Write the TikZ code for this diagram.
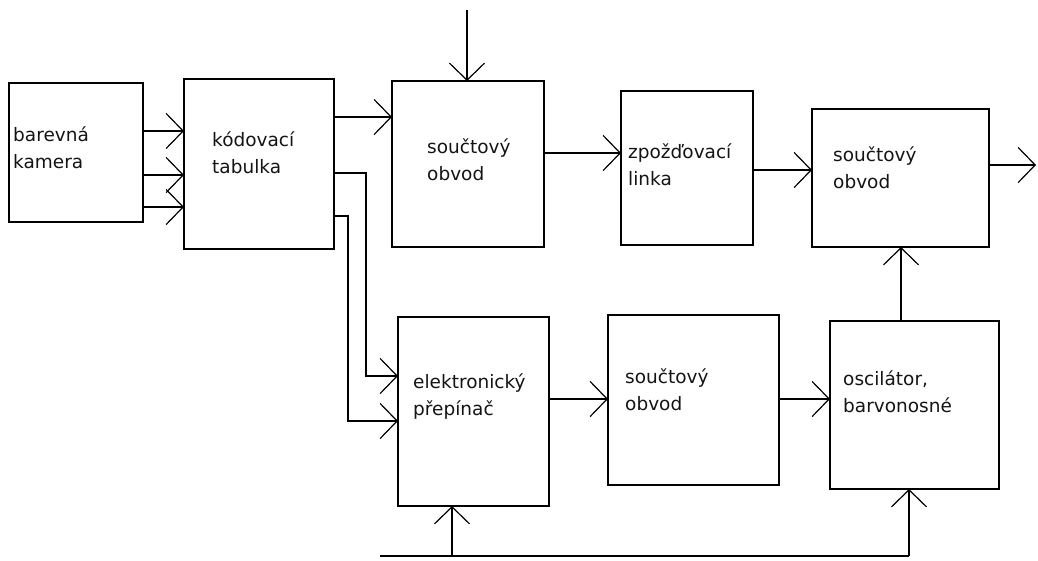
\documentclass[tikz,border=0pt]{standalone}
\usepackage{fontspec}
\setmainfont{DejaVu Sans}
\usepackage{tikz}
\usetikzlibrary{positioning,arrows.meta,calc}
\usepackage{xcolor}
\definecolor{schemaLine}{RGB}{0,0,0}
\definecolor{schemaText}{RGB}{20,20,20}

\begin{document}
\begin{tikzpicture}[x=1pt, y=-1pt,
    blok/.style={draw=schemaLine, line width=1.2pt, anchor=north west, inner sep=0pt, outer sep=0pt},
    popis/.style={anchor=base west, inner sep=0pt, align=left, text=schemaText,
                  font=\fontsize{18.5}{27}\selectfont},
    sip/.style={draw=schemaLine, line width=1.2pt,
                -{Straight Barb[length=17pt, width=35pt, line width=1.2pt]}},
    vod/.style={draw=schemaLine, line width=1.2pt}]
  \useasboundingbox (0,0) rectangle (1038,560);

  % bloky
  \node[blok, minimum width=134pt, minimum height=139pt] (kamera)   at (9,83)   {};
  \node[blok, minimum width=150pt, minimum height=170pt] (tabulka)  at (184,79) {};
  \node[blok, minimum width=152pt, minimum height=166pt] (soucetA)  at (392,81) {};
  \node[blok, minimum width=132pt, minimum height=154pt] (linka)    at (621,91) {};
  \node[blok, minimum width=177pt, minimum height=138pt] (soucetB)  at (812,109) {};
  \node[blok, minimum width=151pt, minimum height=189pt] (prepinac) at (398,317) {};
  \node[blok, minimum width=171pt, minimum height=170pt] (soucetC)  at (608,315) {};
  \node[blok, minimum width=169pt, minimum height=168pt] (oscil)    at (830,321) {};

  % popisy (base = posledni radek)
  \node[popis] (kameraT)   at (13,168)  {barevná\\kamera};
  \node[popis] (tabulkaT)  at (212,173) {kódovací\\tabulka};
  \node[popis] (soucetAT)  at (427,180) {součtový\\obvod};
  \node[popis] (linkaT)    at (628,185) {zpožďovací\\linka};
  \node[popis] (soucetBT)  at (833,188) {součtový\\obvod};
  \node[popis] (prepinacT) at (413,415) {elektronický\\přepínač};
  \node[popis] (soucetCT)  at (625,410) {součtový\\obvod};
  \node[popis] (oscilT)    at (843,412) {oscilátor,\\barvonosné};

  % volne konce
  \coordinate (vstupA) at (467,10);
  \coordinate (vystup) at (1036,165);
  \coordinate (lomA)   at (366,173);
  \coordinate (lomB)   at (348,216);
  \coordinate (sbernA) at (380,556);
  \coordinate (sbernB) at (452,556);
  \coordinate (sbernC) at (909,556);

  % spoje
  \foreach \y in {131,175,207}
    \draw[sip] (kamera.east |- 0,\y) -- (tabulka.west |- 0,\y);
  \draw[sip] (tabulka.east |- 0,117) -- (soucetA.west |- 0,117);
  \draw[sip] (vstupA) -- (vstupA |- soucetA.north);
  \draw[sip] (soucetA.east |- 0,153) -- (linka.west |- 0,153);
  \draw[sip] (linka.east |- 0,170) -- (soucetB.west |- 0,170);
  \draw[sip] (soucetB.east |- vystup) -- (vystup);
  \draw[sip] (tabulka.east |- lomA) -- (lomA) -- (lomA |- 0,376) -- (prepinac.west |- 0,376);
  \draw[sip] (tabulka.east |- lomB) -- (lomB) -- (lomB |- 0,421) -- (prepinac.west |- 0,421);
  \draw[sip] (prepinac.east |- 0,399) -- (soucetC.west |- 0,399);
  \draw[sip] (soucetC.east |- 0,399) -- (oscil.west |- 0,399);
  \draw[sip] (oscil.north -| 901,0) -- (soucetB.south -| 901,0);
  \draw[vod] (sbernA) -- (sbernC);
  \draw[sip] (sbernB) -- (sbernB |- prepinac.south);
  \draw[sip] (sbernC) -- (sbernC |- oscil.south);
\end{tikzpicture}
\end{document}
